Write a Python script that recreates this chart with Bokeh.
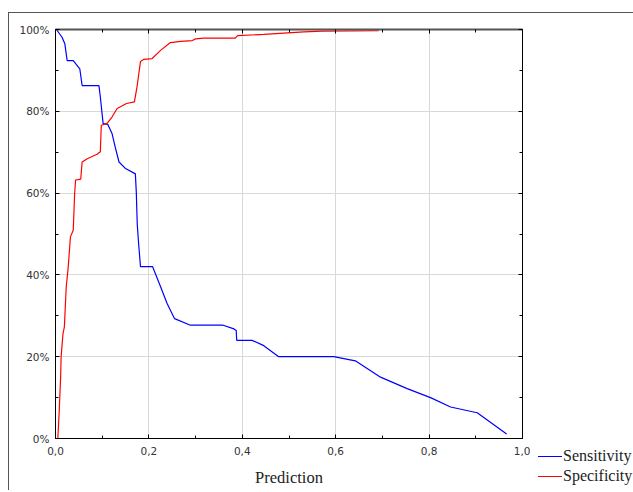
from bokeh.plotting import figure
from bokeh.layouts import row, column
from bokeh.models import FixedTicker, LinearAxis, Range1d, Div, Spacer
from bokeh.embed import file_html
from bokeh.resources import INLINE

# ---- data ----
sens_x = [0.0, 0.002, 0.014, 0.02, 0.025, 0.038, 0.052, 0.057, 0.093, 0.096, 0.102, 0.112,
          0.121, 0.128, 0.136, 0.15, 0.171, 0.173, 0.175, 0.178, 0.182, 0.208, 0.225,
          0.239, 0.255, 0.289, 0.31, 0.359, 0.382, 0.387, 0.388, 0.421, 0.446, 0.478,
          0.596, 0.642, 0.696, 0.753, 0.803, 0.846, 0.903, 0.966]
sens_y = [100, 100, 98.1, 96.5, 92.4, 92.4, 90.4, 86.3, 86.3, 83.5, 77, 76.8, 74.6, 71.2,
          67.6, 66, 64.7, 60.3, 52.5, 47.6, 42, 42, 37.1, 33, 29.3, 27.7, 27.7, 27.7,
          26.8, 26.4, 24, 24, 22.7, 20, 20, 19, 15, 12.2, 10, 7.7, 6.3, 1.1]

spec_x = [0.005, 0.008, 0.011, 0.012, 0.016, 0.019, 0.023, 0.027, 0.032, 0.038, 0.041,
          0.043, 0.054, 0.057, 0.068, 0.089, 0.096, 0.098, 0.11, 0.121, 0.132, 0.152,
          0.169, 0.175, 0.182, 0.189, 0.207, 0.225, 0.246, 0.268, 0.293, 0.3, 0.317,
          0.385, 0.39, 0.446, 0.489, 0.532, 0.571, 0.692]
spec_y = [0, 6.8, 15, 19.9, 25.6, 27.3, 37.1, 41.6, 49.3, 50.9, 59.9, 63.2, 63.4, 67.6,
          68.4, 69.5, 70.1, 76.6, 77, 78.6, 80.7, 81.9, 82.3, 86.3, 92.2, 92.7, 92.9,
          94.9, 96.8, 97.1, 97.3, 97.7, 97.9, 97.9, 98.5, 98.8, 99.1, 99.4, 99.6, 99.7]

x_ticks = [0.0, 0.2, 0.4, 0.6, 0.8, 1.0]
x_tick_labels = ["0,0", "0,2", "0,4", "0,6", "0,8", "1,0"]
x_minor = [0.1, 0.3, 0.5, 0.7, 0.9]
y_ticks = [0, 20, 40, 60, 80, 100]
y_tick_labels = ["0%", "20%", "40%", "60%", "80%", "100%"]
y_minor = [10, 30, 50, 70, 90]
series_names = ["Sensitivity", "Specificity"]
series_colors = ["#0000ff", "#ff0000"]
x_title = "Prediction"

H = 477
W_MAIN = 521
W_LEG = 103

p = figure(width=W_MAIN, height=H, output_backend="svg", toolbar_location=None,
           x_range=Range1d(0, 1), y_range=Range1d(0, 100),
           min_border_left=46, min_border_right=8, min_border_top=16, min_border_bottom=52)
p.background_fill_color = "white"
p.border_fill_color = "white"
p.outline_line_color = "black"
p.outline_line_width = 1

lab_font = "DejaVu Sans"

def style_axis(ax, labels=True):
    ax.axis_line_color = "black"
    ax.axis_line_width = 1
    ax.major_tick_in = 4
    ax.major_tick_out = 0
    ax.minor_tick_in = 3
    ax.minor_tick_out = 0
    ax.major_tick_line_color = "black"
    ax.minor_tick_line_color = "black"
    if labels:
        ax.major_label_text_font = lab_font
        ax.major_label_text_font_size = "10.5px"
        ax.major_label_text_color = "#333333"
    else:
        ax.major_label_text_font_size = "0px"
        ax.major_label_text_alpha = 0
        ax.major_label_standoff = 0

xt = FixedTicker(ticks=x_ticks, minor_ticks=x_minor)
yt = FixedTicker(ticks=y_ticks, minor_ticks=y_minor)

p.xaxis.ticker = xt
p.yaxis.ticker = yt
p.xaxis.major_label_overrides = {t: l for t, l in zip(x_ticks, x_tick_labels)}
p.yaxis.major_label_overrides = {t: l for t, l in zip(y_ticks, y_tick_labels)}
style_axis(p.xaxis[0])
style_axis(p.yaxis[0])
p.xaxis.major_label_standoff = 8
p.yaxis.major_label_standoff = 6
p.xaxis.axis_label = x_title
p.xaxis.axis_label_text_font = "Liberation Serif"
p.xaxis.axis_label_text_font_style = "normal"
p.xaxis.axis_label_text_font_size = "16.5px"
p.xaxis.axis_label_text_color = "#222222"
p.xaxis.axis_label_standoff = 10

top_ax = LinearAxis(ticker=FixedTicker(ticks=x_ticks, minor_ticks=x_minor))
style_axis(top_ax, labels=False)
top_ax.axis_line_color = "#555555"
top_ax.axis_line_width = 2
p.add_layout(top_ax, "above")
right_ax = LinearAxis(ticker=FixedTicker(ticks=y_ticks, minor_ticks=y_minor))
style_axis(right_ax, labels=False)
p.add_layout(right_ax, "right")

p.xgrid.ticker = xt
p.ygrid.ticker = yt
p.grid.grid_line_color = "#d8d8d8"
p.grid.grid_line_width = 1

p.line(sens_x, sens_y, line_color=series_colors[0], line_width=1.2)
p.line(spec_x, spec_y, line_color=series_colors[1], line_width=1.2)

# legend as an HTML block to the right of the plot, below the frame
rows_html = "".join(
    '<div style="height:20px;line-height:20px;white-space:nowrap;display:flex;align-items:center">'
    '<span style="display:inline-block;width:24px;height:1px;background-color:%s;'
    'margin-left:8px;margin-right:1px"></span><span>%s</span></div>' % (c, n)
    for n, c in zip(series_names, series_colors))
leg = Div(text='<div style="font-family:\'Liberation Serif\';font-size:16px;color:#222222">'
               + rows_html + '</div>', width=W_LEG, height=40, margin=0)
right_col = column(Spacer(width=W_LEG, height=433, margin=0), leg, spacing=0)

layout = row(p, right_col, spacing=0)
layout.styles = {"border-top": "1px solid #555555", "border-left": "1px solid #555555",
                 "margin-top": "12px", "margin-left": "8px"}

open("out.html", "w").write(file_html(layout, INLINE))
